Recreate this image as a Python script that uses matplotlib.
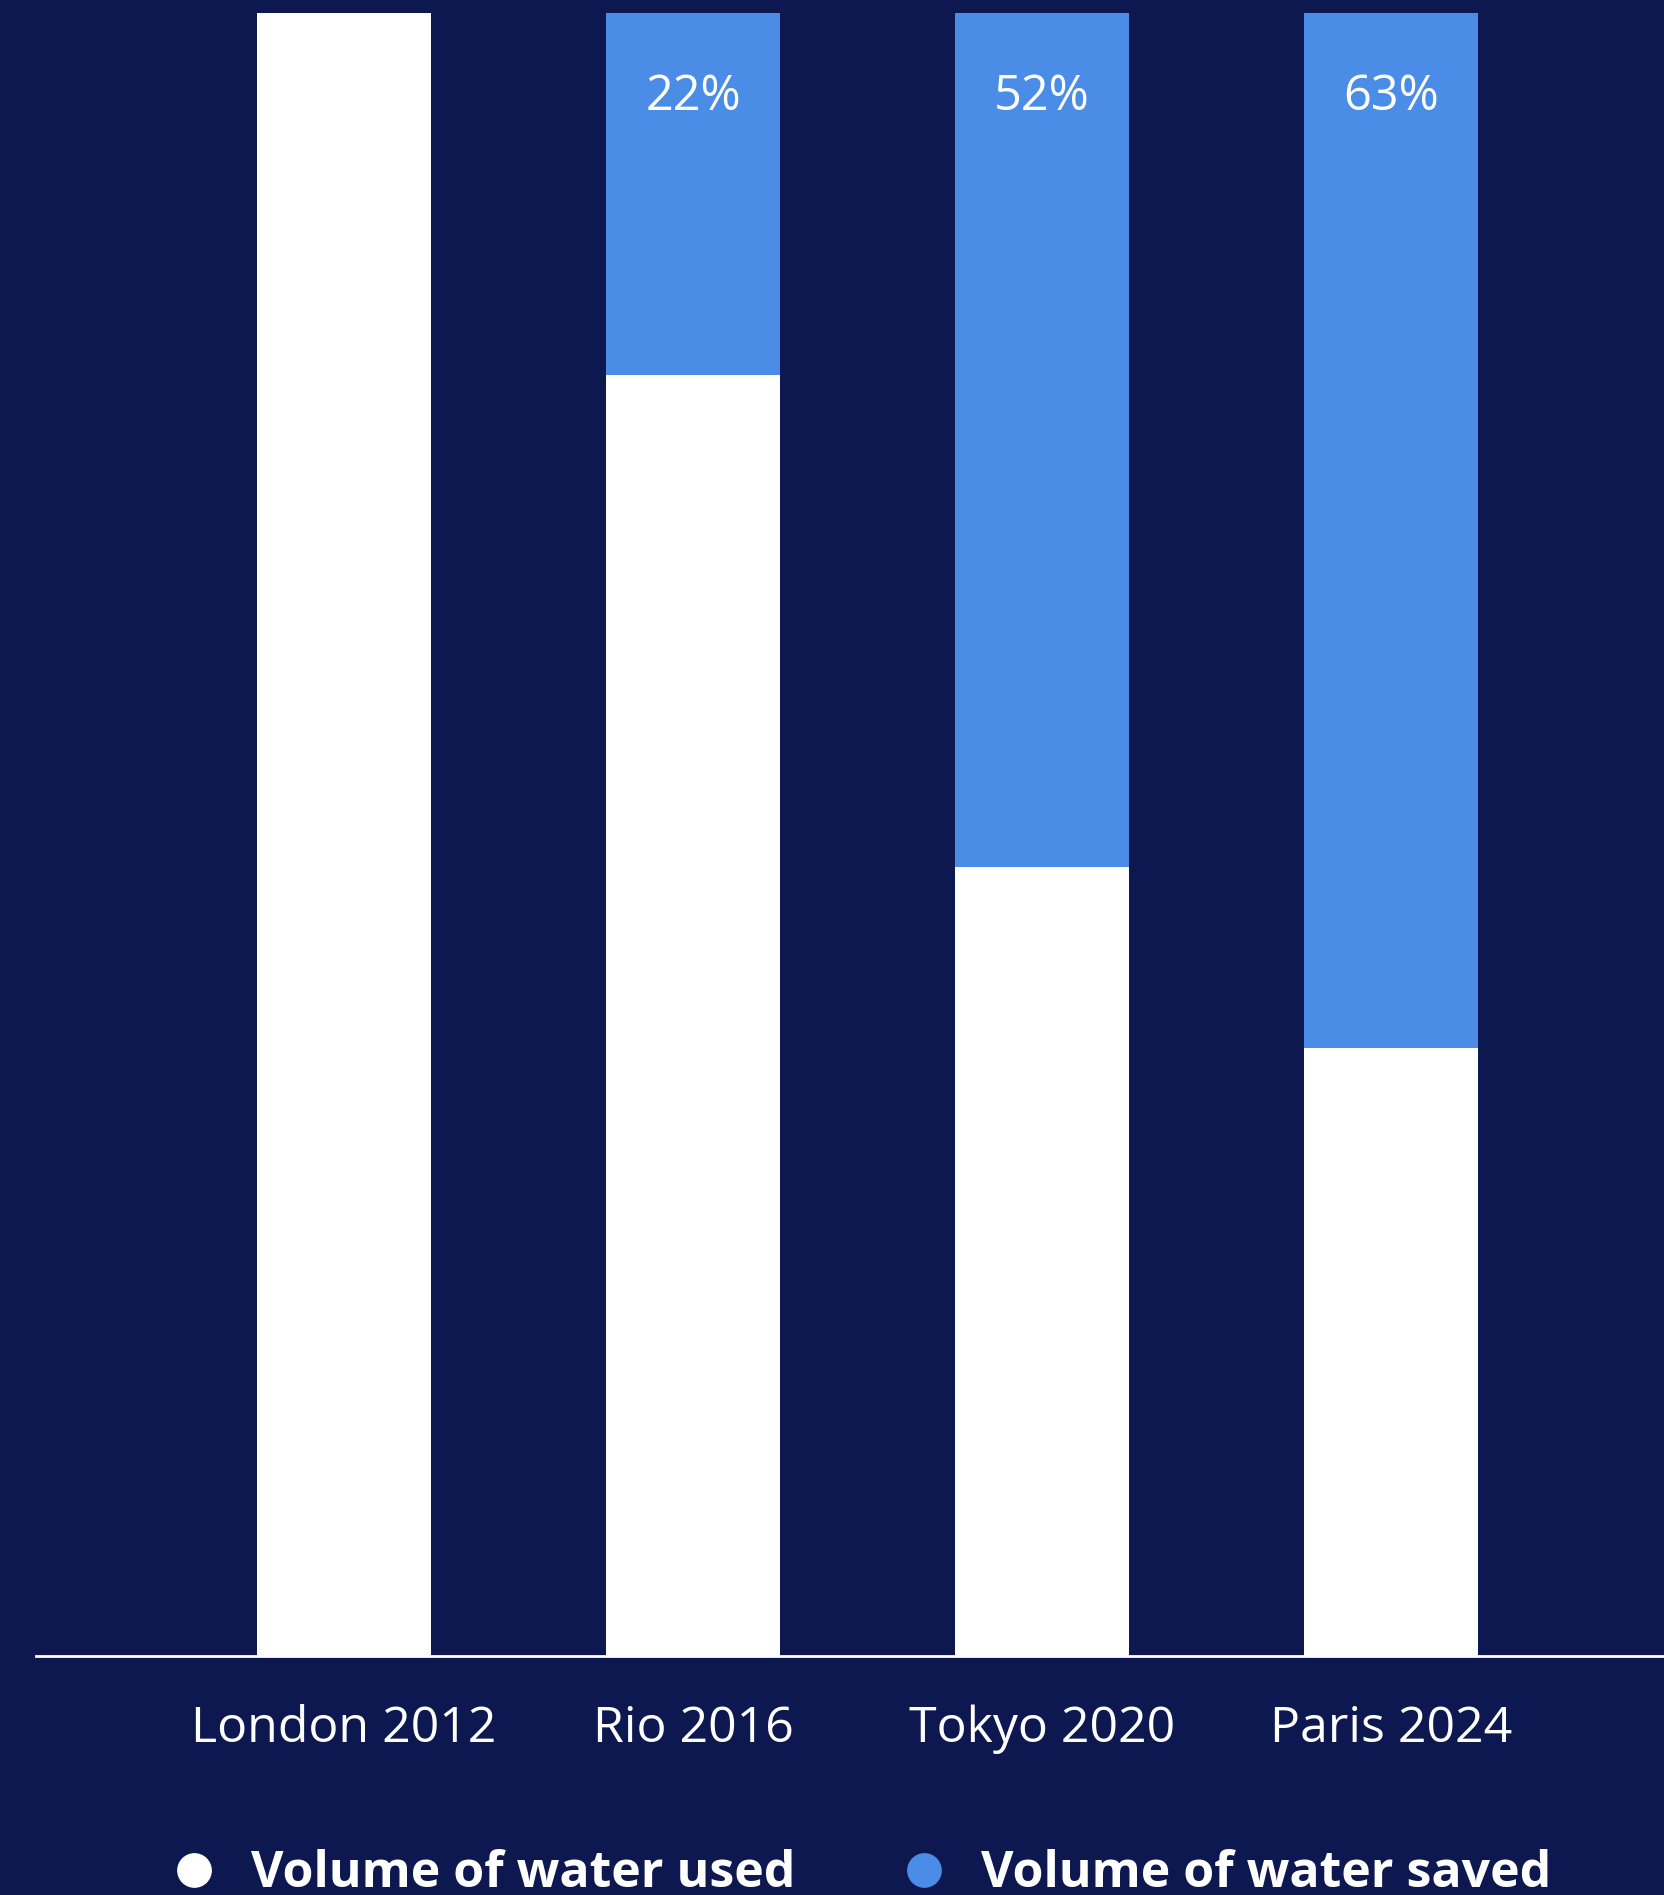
import matplotlib.pyplot as plt
from matplotlib.lines import Line2D

games = ['London 2012', 'Rio 2016', 'Tokyo 2020', 'Paris 2024']
water_used = [100, 78, 48, 37]
water_saved = [0, 22, 52, 63]

navy = '#0d1850'
blue = '#4a8ce6'

plt.rcParams['font.family'] = ['Open Sans', 'DejaVu Sans']

fig = plt.figure(figsize=(16.65, 18.95), dpi=100, facecolor=navy)
ax = fig.add_axes([0.0216, 0.1261, 0.9784, 0.867])
ax.set_facecolor(navy)

x = range(len(games))
ax.bar(x, water_used, width=0.5, color='white', zorder=2)
ax.bar(x, water_saved, width=0.5, bottom=water_used, color=blue, zorder=2)

# share of water saved, written near the top of each bar
for i, s in enumerate(water_saved):
    if s > 0:
        ax.text(i, 94.9, f'{s}%', ha='center', va='center', color='white',
                fontsize=35)

ax.set_xlim(-0.883, 3.785)
ax.set_ylim(0, 100)
for side in ['top', 'right', 'left']:
    ax.spines[side].set_visible(False)
ax.spines['bottom'].set_color('white')
ax.spines['bottom'].set_linewidth(2)
ax.spines['bottom'].set_zorder(1)
ax.set_yticks([])
ax.set_xticks(list(x))
ax.set_xticklabels(games, color='white', fontsize=36)
ax.tick_params(axis='x', length=0, pad=35)

handles = [
    Line2D([], [], marker='o', linestyle='', markersize=24, color='white'),
    Line2D([], [], marker='o', linestyle='', markersize=24, color=blue),
]
leg = fig.legend(handles, ['Volume of water used', 'Volume of water saved'],
                 loc='center', bbox_to_anchor=(0.5166, 0.011), ncol=2,
                 frameon=False, handlelength=1.0, handletextpad=0.65,
                 columnspacing=2.06, borderpad=0,
                 prop={'size': 36, 'weight': 'bold'})
for t in leg.get_texts():
    t.set_color('white')

fig.savefig('out.png', facecolor=navy)
